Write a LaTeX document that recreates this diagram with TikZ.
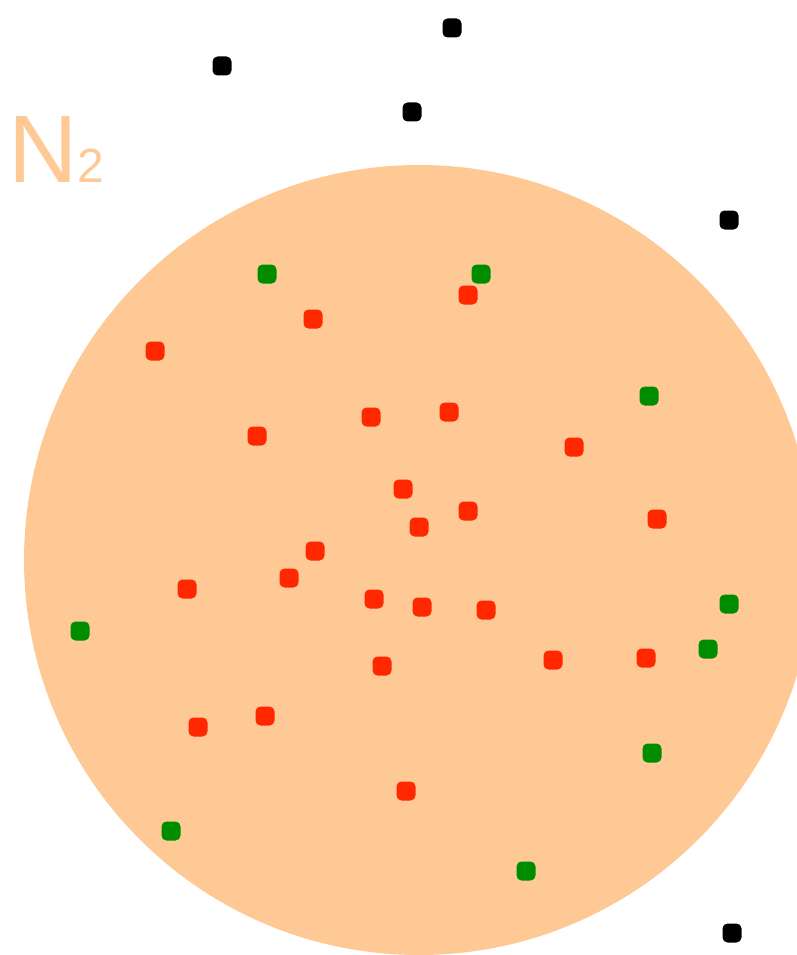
\documentclass[tikz,border=0pt]{standalone}
\usepackage{fontspec}
\setmainfont{Liberation Sans}
\definecolor{peach}{RGB}{254,201,148}
\definecolor{ptred}{RGB}{255,40,0}
\definecolor{ptgreen}{RGB}{0,140,0}
\begin{document}
\begin{tikzpicture}[
  x=1pt, y=-1pt,
  pt/.style = {
    rectangle, rounded corners=5pt,
    minimum size=19pt, inner sep=0pt
  },
  inpt/.style = {pt, fill=ptred},
  edgept/.style = {pt, fill=ptgreen},
  outpt/.style = {pt, fill=black}
]
\useasboundingbox (0,0) rectangle (796,955);

\node[circle, fill=peach, minimum size=790pt, inner sep=0pt] (region) at (419,560) {};
\node[anchor=base west, inner sep=0pt, text=peach, font=\fontsize{96}{96}\selectfont] (label) at (8,182) {N{\fontsize{48}{48}\selectfont 2}};

% points outside
\node[outpt] (o1) at (222,66) {};
\node[outpt] (o2) at (452,28) {};
\node[outpt] (o3) at (412,112) {};
\node[outpt] (o4) at (729,220) {};
\node[outpt] (o5) at (732,933) {};

% points near the border
\node[edgept] (g1) at (267,274) {};
\node[edgept] (g2) at (481,274) {};
\node[edgept] (g3) at (649,396) {};
\node[edgept] (g4) at (729,604) {};
\node[edgept] (g5) at (708,649) {};
\node[edgept] (g6) at (80,631) {};
\node[edgept] (g7) at (652,753) {};
\node[edgept] (g8) at (171,831) {};
\node[edgept] (g9) at (526,871) {};

% points inside
\node[inpt] (r1) at (468,295) {};
\node[inpt] (r2) at (313,319) {};
\node[inpt] (r3) at (155,351) {};
\node[inpt] (r4) at (371,417) {};
\node[inpt] (r5) at (449,412) {};
\node[inpt] (r6) at (257,436) {};
\node[inpt] (r7) at (574,447) {};
\node[inpt] (r8) at (403,489) {};
\node[inpt] (r9) at (419,527) {};
\node[inpt] (r10) at (468,511) {};
\node[inpt] (r11) at (657,519) {};
\node[inpt] (r12) at (315,551) {};
\node[inpt] (r13) at (289,578) {};
\node[inpt] (r14) at (187,589) {};
\node[inpt] (r15) at (374,599) {};
\node[inpt] (r16) at (422,607) {};
\node[inpt] (r17) at (486,610) {};
\node[inpt] (r18) at (382,666) {};
\node[inpt] (r19) at (553,660) {};
\node[inpt] (r20) at (646,658) {};
\node[inpt] (r21) at (265,716) {};
\node[inpt] (r22) at (198,727) {};
\node[inpt] (r23) at (406,791) {};

\end{tikzpicture}
\end{document}
